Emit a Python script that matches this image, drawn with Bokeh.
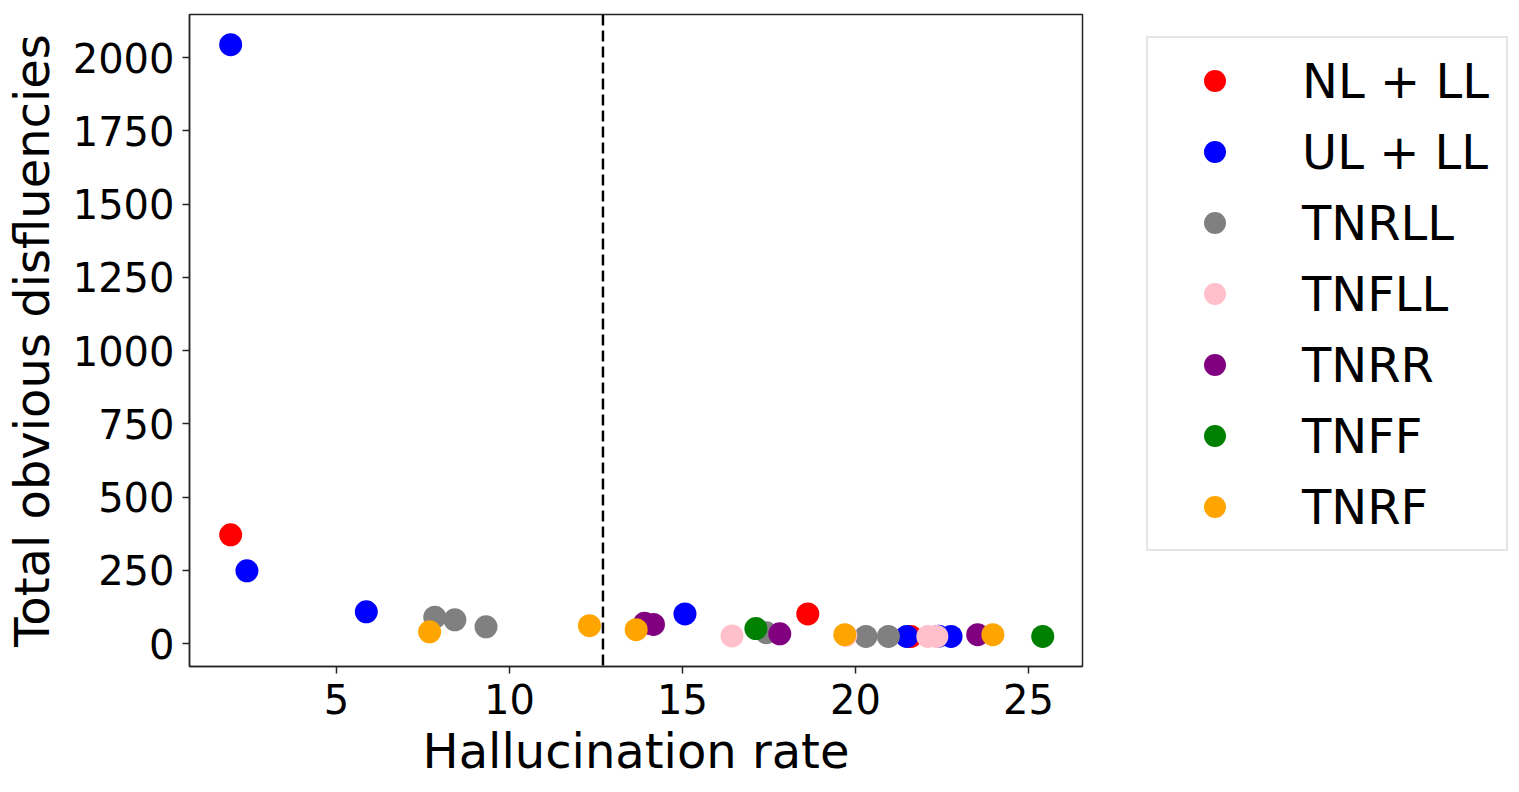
from bokeh.plotting import figure
from bokeh.models import Legend, LegendItem, Span, FixedTicker, Range1d
from bokeh.embed import file_html
from bokeh.resources import INLINE

# ---- data ----
series_names = ["NL + LL", "UL + LL", "TNRLL", "TNFLL", "TNRR", "TNFF", "TNRF"]
series_colors = ["red", "blue", "gray", "pink", "purple", "green", "orange"]

nl_ll_x = [1.94, 18.62, 21.60]
nl_ll_y = [371, 101, 24]
ul_ll_x = [1.94, 2.41, 5.86, 15.07, 21.48, 22.40, 22.76]
ul_ll_y = [2044, 248, 108, 101, 24, 25, 24]
tnrll_x = [7.84, 8.42, 9.32, 17.42, 20.30, 20.95]
tnrll_y = [90, 81, 57, 37, 24, 24]
tnfll_x = [16.43, 19.72, 22.09, 22.35]
tnfll_y = [26, 28, 24, 24]
tnrr_x = [13.90, 14.16, 17.81, 23.53]
tnrr_y = [69, 65, 33, 30]
tnff_x = [17.12, 25.41]
tnff_y = [51, 24]
tnrf_x = [7.69, 12.31, 13.66, 19.69, 23.97]
tnrf_y = [40, 61, 47, 30, 30]

threshold_x = 12.7
x_ticks = [5, 10, 15, 20, 25]
y_ticks = [0, 250, 500, 750, 1000, 1250, 1500, 1750, 2000]

series_x = [nl_ll_x, ul_ll_x, tnrll_x, tnfll_x, tnrr_x, tnff_x, tnrf_x]
series_y = [nl_ll_y, ul_ll_y, tnrll_y, tnfll_y, tnrr_y, tnff_y, tnrf_y]

FONT = "DejaVu Sans"

p = figure(
    frame_width=893, frame_height=652,
    min_border_left=182, min_border_top=14, min_border_bottom=110, min_border_right=20,
    x_range=Range1d(0.75, 26.56), y_range=Range1d(-78.5, 2147),
    output_backend="svg", toolbar_location=None,
)
p.background_fill_color = "white"
p.border_fill_color = "white"
p.outline_line_color = "#262626"
p.outline_line_width = 1.5
p.xgrid.visible = False
p.ygrid.visible = False

span = Span(location=threshold_x, dimension="height", line_color="black",
            line_width=2.5, line_dash="11 5")
p.add_layout(span)

items = []
for name, color, xs, ys in zip(series_names, series_colors, series_x, series_y):
    r = p.scatter(xs, ys, size=23, fill_color=color, line_color=color, line_width=0)
    items.append(LegendItem(label=name, renderers=[r]))

for ax in (p.xaxis[0], p.yaxis[0]):
    ax.axis_line_color = "#262626"
    ax.axis_line_width = 1.5
    ax.major_tick_line_color = "#262626"
    ax.major_tick_line_width = 1.5
    ax.major_tick_out = 7
    ax.major_tick_in = 0
    ax.minor_tick_line_color = None
    ax.major_label_text_font = FONT
    ax.major_label_text_font_size = "40px"
    ax.major_label_text_color = "black"
    ax.axis_label_text_font = FONT
    ax.axis_label_text_font_size = "48px"
    ax.axis_label_text_font_style = "normal"
    ax.axis_label_text_color = "black"
    ax.major_label_standoff = 8

p.xaxis[0].ticker = FixedTicker(ticks=x_ticks)
p.yaxis[0].ticker = FixedTicker(ticks=y_ticks)
p.xaxis[0].major_label_standoff = 10
p.xaxis[0].axis_label = "Hallucination rate"
p.yaxis[0].axis_label = "Total obvious disfluencies"
p.xaxis[0].axis_label_standoff = 6
p.yaxis[0].axis_label_standoff = 10

legend = Legend(items=items, location=(64, 115))
legend.margin = 0
legend.padding = 7
legend.glyph_width = 119
legend.glyph_height = 55
legend.label_height = 71
legend.label_width = 197
legend.label_standoff = 28
legend.spacing = 0
legend.label_text_font = FONT
legend.label_text_font_size = "48px"
legend.label_text_color = "black"
legend.border_line_color = "#cccccc"
legend.border_line_width = 2
legend.background_fill_color = "white"
legend.background_fill_alpha = 1.0
p.add_layout(legend, "right")

open("out.html", "w").write(file_html(p, INLINE))
